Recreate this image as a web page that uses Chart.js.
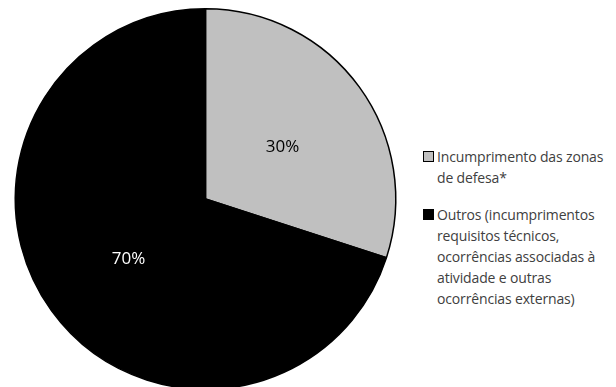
<!DOCTYPE html>
<html>
<head>
<meta charset="utf-8">
<script src="https://cdn.jsdelivr.net/npm/chart.js@4/dist/chart.umd.min.js"></script>
<style>
    html, body { margin: 0; padding: 0; background: #fff; width: 616px; height: 387px; overflow: hidden; }
    #wrap { position: absolute; left: 0; top: 0; width: 412px; height: 400px; }
    #legend { position: absolute; left: 423px; top: 146px; font-family: 'Open Sans', sans-serif; font-size: 14px; line-height: 21px; color: #404040; letter-spacing: -0.15px; }
    .item { position: relative; padding-left: 14px; width: 180px; }
    .item + .item { margin-top: 16px; }
    .box { position: absolute; left: 0; top: 5px; width: 9px; height: 9px; border: 1px solid #000; }
</style>
</head>
<body>
<div id="wrap"><canvas id="pieChart"></canvas></div>
<div id="legend"></div>
<script>
// data
const categories = [
    'Incumprimento das zonas de defesa*',
    'Outros (incumprimentos requisitos técnicos, ocorrências associadas à atividade e outras ocorrências externas)'
];
const shares = [30, 70];
const sliceColors = ['#c0c0c0', '#000000'];
const labelColors = ['#000000', '#ffffff'];

// legend lines as broken in the picture
const legendLines = [
    ['Incumprimento das zonas', 'de defesa*'],
    ['Outros (incumprimentos', 'requisitos técnicos,', 'ocorrências associadas à', 'atividade e outras', 'ocorrências externas)']
];

// percent labels inside each slice
const sliceLabels = {
    id: 'sliceLabels',
    afterDatasetsDraw(chart) {
        const ctx = chart.ctx;
        const meta = chart.getDatasetMeta(0);
        ctx.save();
        ctx.font = '17px "Open Sans", sans-serif';
        ctx.textAlign = 'center';
        ctx.textBaseline = 'middle';
        meta.data.forEach(function (arc, i) {
            const p = arc.getProps(['x', 'y', 'startAngle', 'endAngle', 'outerRadius'], true);
            const mid = (p.startAngle + p.endAngle) / 2;
            const r = p.outerRadius * 0.5;
            ctx.fillStyle = labelColors[i];
            ctx.fillText(shares[i] + '%', p.x + Math.cos(mid) * r, p.y + Math.sin(mid) * r + 4);
        });
        ctx.restore();
    }
};

new Chart(document.getElementById('pieChart'), {
    type: 'pie',
    data: {
        labels: categories,
        datasets: [{
            data: shares,
            backgroundColor: sliceColors,
            borderColor: '#000000',
            borderWidth: 1.5
        }]
    },
    options: {
        responsive: true,
        maintainAspectRatio: false,
        animation: false,
        layout: { padding: { left: 14, right: 15, top: 8, bottom: 10 } },
        plugins: { legend: { display: false }, tooltip: { enabled: false } }
    },
    plugins: [sliceLabels]
});

// HTML legend
const legendEl = document.getElementById('legend');
legendLines.forEach(function (lines, i) {
    const item = document.createElement('div');
    item.className = 'item';
    const box = document.createElement('span');
    box.className = 'box';
    box.style.background = sliceColors[i];
    item.appendChild(box);
    lines.forEach(function (t) {
        const line = document.createElement('div');
        line.textContent = t;
        item.appendChild(line);
    });
    legendEl.appendChild(item);
});
</script>
</body>
</html>
